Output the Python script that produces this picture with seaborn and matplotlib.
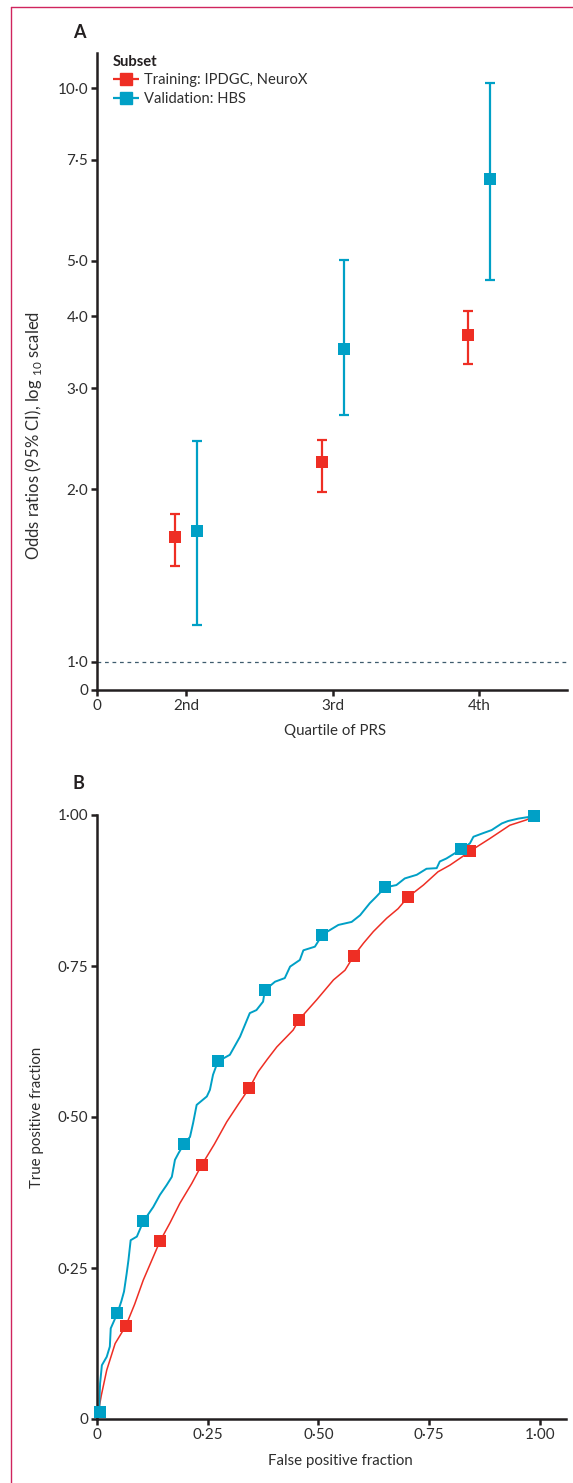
import numpy as np
import matplotlib
matplotlib.use("Agg")
import matplotlib.pyplot as plt
from matplotlib.lines import Line2D
from matplotlib.ticker import NullLocator, FixedLocator
from matplotlib.container import ErrorbarContainer
from matplotlib.legend_handler import HandlerErrorbar
import seaborn as sns

# data (panel A: odds ratios by PRS quartile)
quartiles = ["2nd", "3rd", "4th"]
quartile_pos = [2, 3, 4]
train_or = [1.65, 2.23, 3.71]
train_lo = [1.47, 1.98, 3.30]
train_hi = [1.81, 2.44, 4.08]
valid_or = [1.69, 3.51, 6.93]
valid_lo = [1.16, 2.69, 4.63]
valid_hi = [2.43, 5.02, 10.2]

# panel B: ROC curves
train_fpr = [0, 0.010, 0.022, 0.041, 0.065, 0.085, 0.1045, 0.142, 0.165, 0.187, 0.214, 0.236,
             0.265, 0.293, 0.320, 0.344, 0.364, 0.385, 0.406, 0.443, 0.456, 0.496, 0.534, 0.560,
             0.580, 0.602, 0.624, 0.654, 0.680, 0.702, 0.737, 0.770, 0.797, 0.831, 0.842, 0.887,
             0.932, 0.970, 0.986]
train_tpr = [0, 0.040, 0.081, 0.125, 0.154, 0.190, 0.230, 0.294, 0.325, 0.357, 0.390, 0.420,
             0.455, 0.492, 0.522, 0.548, 0.575, 0.596, 0.616, 0.644, 0.661, 0.694, 0.727, 0.743,
             0.767, 0.788, 0.807, 0.829, 0.845, 0.864, 0.884, 0.906, 0.917, 0.934, 0.940, 0.961,
             0.983, 0.992, 0.998]
valid_fpr = [0.005, 0.006, 0.007, 0.011, 0.022, 0.029, 0.031, 0.046, 0.055, 0.061, 0.067, 0.071,
             0.076, 0.090, 0.1045, 0.127, 0.142, 0.157, 0.169, 0.176, 0.184, 0.196, 0.210, 0.217,
             0.225, 0.248, 0.255, 0.262, 0.273, 0.300, 0.323, 0.345, 0.360, 0.375, 0.379, 0.402,
             0.424, 0.436, 0.458, 0.466, 0.492, 0.509, 0.545, 0.575, 0.594, 0.616, 0.631, 0.650,
             0.676, 0.695, 0.722, 0.744, 0.767, 0.774, 0.789, 0.822, 0.842, 0.850, 0.872, 0.891,
             0.914, 0.928, 0.951, 0.986]
valid_tpr = [0.010, 0.040, 0.059, 0.089, 0.103, 0.120, 0.150, 0.175, 0.195, 0.211, 0.241, 0.263,
             0.296, 0.302, 0.327, 0.351, 0.371, 0.387, 0.401, 0.429, 0.440, 0.455, 0.467, 0.490,
             0.520, 0.534, 0.545, 0.570, 0.592, 0.603, 0.633, 0.672, 0.677, 0.691, 0.710, 0.724,
             0.730, 0.749, 0.760, 0.776, 0.782, 0.802, 0.818, 0.823, 0.834, 0.854, 0.865, 0.880,
             0.884, 0.895, 0.901, 0.911, 0.912, 0.923, 0.928, 0.943, 0.953, 0.964, 0.970, 0.975,
             0.986, 0.990, 0.994, 0.998]
train_mark_fpr = [0.065, 0.142, 0.236, 0.344, 0.456, 0.580, 0.702, 0.842]
train_mark_tpr = [0.154, 0.294, 0.420, 0.548, 0.661, 0.767, 0.864, 0.940]
valid_mark_fpr = [0.007, 0.046, 0.1045, 0.196, 0.273, 0.379, 0.509, 0.650, 0.822, 0.986]
valid_mark_tpr = [0.012, 0.175, 0.327, 0.455, 0.592, 0.710, 0.802, 0.880, 0.943, 0.998]

labels = ["Training: IPDGC, NeuroX", "Validation: HBS"]

RED = "#EE2E24"
BLUE = "#00A0C6"
INK = "#231F20"
TXT = "#2E2E2E"

sns.set_style("ticks")
plt.rcParams["font.family"] = ["Lato", "DejaVu Sans"]
plt.rcParams["font.size"] = 10.5

W, H = 573, 1483
fig = plt.figure(figsize=(W / 100, H / 100), dpi=100)


def style_axes(ax):
    sns.despine(ax=ax)
    for s in ["left", "bottom"]:
        ax.spines[s].set_linewidth(1.8)
        ax.spines[s].set_color(INK)
    ax.tick_params(direction="out", length=4.3, width=1.8, color=INK,
                   labelcolor=TXT, labelsize=11, pad=2)


# ---------- panel A ----------
ax = fig.add_axes([97 / W, 1 - 690 / H, 470 / W, 637 / H])
ax.set_yscale("log")
ybot = 10 ** (-28 / 574)
ytop = 10 ** (609 / 574)
xleft = 2 - 89 / 146.5
ax.set_ylim(ybot, ytop)
ax.set_xlim(xleft, 4.6)

off = 0.075
for vals, lo, hi, col, d in [(train_or, train_lo, train_hi, RED, -off),
                             (valid_or, valid_lo, valid_hi, BLUE, off)]:
    vals, lo, hi = np.array(vals), np.array(lo), np.array(hi)
    x = np.array(quartile_pos) + d
    ax.errorbar(x, vals, yerr=[vals - lo, hi - vals], fmt="none", ecolor=col,
                elinewidth=1.6, capsize=3.6, capthick=1.6, zorder=2)
    sns.scatterplot(x=x, y=vals, marker="s", s=76, color=col, linewidth=0,
                    ax=ax, zorder=3, legend=False)

ax.axhline(1, ls=(0, (3, 3)), lw=0.9, color="#3E5C6E", zorder=1)

ax.yaxis.set_minor_locator(NullLocator())
ax.yaxis.set_major_locator(FixedLocator([ybot, 1, 2, 3, 4, 5, 7.5, 10]))
ax.set_yticklabels(["0", "1·0", "2·0", "3·0", "4·0", "5·0", "7·5", "10·0"])
ax.set_xticks([xleft] + quartile_pos)
ax.set_xticklabels(["0"] + quartiles)
style_axes(ax)
ax.set_xlabel("Quartile of PRS", fontsize=10.8, color=TXT, labelpad=8)
ax.xaxis.label.set_x(0.506)
ax.set_ylabel(r"Odds ratios (95% CI), log $_{\mathregular{10}}$ scaled", fontsize=12, color=TXT)
ax.yaxis.set_label_coords(-0.113, 0.40)

h1 = ax.errorbar([], [], xerr=[], fmt="s", color=RED, ms=8.6, elinewidth=1.6,
                 capsize=3.6, capthick=1.6, label=labels[0])
h2 = ax.errorbar([], [], xerr=[], fmt="s", color=BLUE, ms=8.6, elinewidth=1.6,
                 capsize=3.6, capthick=1.6, label=labels[1])
leg = ax.legend(handles=[h1, h2], title="Subset", loc="upper left",
                bbox_to_anchor=(0.034, 0.997), frameon=False, borderpad=0,
                borderaxespad=0, handlelength=1.8, handletextpad=0.3,
                labelspacing=0.3, alignment="left", fontsize=10.6,
                title_fontsize=10.6,
                handler_map={ErrorbarContainer: HandlerErrorbar(xerr_size=0.9)})
leg.get_title().set_fontweight("bold")
leg.get_title().set_color(INK)
for t in leg.get_texts():
    t.set_color(TXT)

# ---------- panel B ----------
bx = fig.add_axes([97 / W, 1 - 1419 / H, 469 / W, 604 / H])
bx.set_xlim(0, 1.059)
bx.set_ylim(0, 1)
sns.lineplot(x=train_fpr, y=train_tpr, sort=False, estimator=None, color=RED,
             lw=1.1, ax=bx, zorder=2)
sns.lineplot(x=valid_fpr, y=valid_tpr, sort=False, estimator=None, color=BLUE,
             lw=1.4, ax=bx, zorder=2)
sns.scatterplot(x=train_mark_fpr, y=train_mark_tpr, marker="s", s=76, color=RED,
                linewidth=0, ax=bx, zorder=3, legend=False, clip_on=False)
sns.scatterplot(x=valid_mark_fpr, y=valid_mark_tpr, marker="s", s=76, color=BLUE,
                linewidth=0, ax=bx, zorder=4, legend=False, clip_on=False)
ticks = [0, 0.25, 0.5, 0.75, 1.0]
tick_labels = ["0", "0·25", "0·50", "0·75", "1·00"]
bx.set_xticks(ticks)
bx.set_xticklabels(tick_labels)
bx.set_yticks(ticks)
bx.set_yticklabels(tick_labels)
style_axes(bx)
bx.set_xlabel("False positive fraction", fontsize=10.8, color=TXT, labelpad=9)
bx.xaxis.label.set_x(0.518)
bx.set_ylabel("True positive fraction", fontsize=10.8, color=TXT)
bx.yaxis.set_label_coords(-0.113, 0.5)

# panel letters
fig.text(79 / W, 1 - 33 / H, "A", fontsize=13, fontweight="bold", color=INK,
         ha="center", va="center")
fig.text(78 / W, 1 - 784 / H, "B", fontsize=13, fontweight="bold", color=INK,
         ha="center", va="center")

# journal frame
frame = "#D0245E"
fig.add_artist(Line2D([10.5 / W, 10.5 / W], [0, 1 - 6.7 / H], transform=fig.transFigure,
                      color=frame, lw=1.0))
fig.add_artist(Line2D([10.5 / W, 1], [1 - 6.7 / H, 1 - 6.7 / H], transform=fig.transFigure,
                      color=frame, lw=1.0))

fig.savefig("out.png", dpi=100)
